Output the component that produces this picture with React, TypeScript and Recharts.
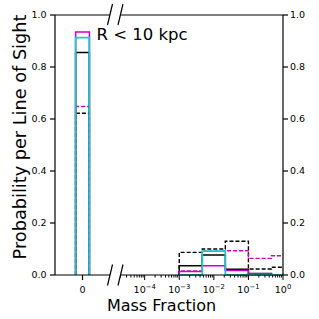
import { LineChart, Line, XAxis, YAxis, ReferenceLine } from 'recharts'

const FONT = '"DejaVu Sans", sans-serif'
const MAGENTA = '#cc00cc'
const CYAN = '#1ec8c8'
const AXIS = { stroke: '#000', strokeWidth: 1.2 }

// bin edges: the "0" bin on the left panel, 2/3-decade bins on the log panel
const ZERO_EDGES = [-0.5, 0.5]
const LOG_EDGES = [0.001, 0.00464, 0.0215, 0.1, 0.464, 2.15]

// first value = zero bin, rest = log bins
const blackDashed = [0.622, 0.087, 0.1, 0.13, 0.023, 0.03]
const magentaDashed = [0.648, 0.016, 0.092, 0.093, 0.064, 0.074]
const blackSolid = [0.856, 0.036, 0.077, 0.022, 0.006, 0]
const magentaSolid = [0.935, 0.013, 0.036, 0.017, 0.005, 0]
const cyanSolid = [0.913, 0, 0.092, 0, 0, 0]

const Y_TICKS = [0, 0.2, 0.4, 0.6, 0.8, 1]
const LOG_MAJOR = [1e-4, 1e-3, 1e-2, 1e-1, 1]
const LOG_DOMAIN = [2e-5, 1]

const SERIES = [
  { key: 'bd', values: blackDashed, color: '#000', dash: '4 2', width: 1.4 },
  { key: 'md', values: magentaDashed, color: MAGENTA, dash: '4 2', width: 1.4 },
  { key: 'bs', values: blackSolid, color: '#000', dash: undefined, width: 1.5 },
  { key: 'ms', values: magentaSolid, color: MAGENTA, dash: undefined, width: 1.5 },
  { key: 'cs', values: cyanSolid, color: CYAN, dash: undefined, width: 1.8 },
]

// minor log ticks 2..9 x 10^k inside the domain
const LOG_MINOR: number[] = []
for (let k = -5; k < 0; k++) {
  for (let m = 2; m <= 9; m++) {
    const v = m * Math.pow(10, k)
    if (v >= LOG_DOMAIN[0] && v <= LOG_DOMAIN[1]) LOG_MINOR.push(v)
  }
}
const LOG_TICKS = [...LOG_MAJOR, ...LOG_MINOR].sort((a, b) => a - b)

// outline of a step histogram: up at first edge, across each bin, down at last edge
function stepOutline(edges: number[], heights: number[]) {
  const pts = [{ x: edges[0], y: 0 }]
  heights.forEach((h, i) => {
    pts.push({ x: edges[i], y: h }, { x: edges[i + 1], y: h })
  })
  pts.push({ x: edges[edges.length - 1], y: 0 })
  return pts
}

function LogTick(props: any) {
  const { x, y, payload } = props
  const lg = Math.log10(payload.value)
  const k = Math.round(lg)
  const major = Math.abs(lg - k) < 1e-6
  return (
    <g>
      <line x1={x} x2={x} y1={y} y2={y + (major ? 5 : 2.5)} stroke="#000" strokeWidth={1} />
      {major && (
        <text x={x} y={y + 18} textAnchor="middle" fontSize={9.5} fontFamily={FONT} fill="#000">
          10<tspan dy={-4.5} fontSize={6.8}>{k === 0 ? '0' : '\u2212' + Math.abs(k)}</tspan>
        </text>
      )}
    </g>
  )
}

const yTickStyle = { fontSize: 9.5, fill: '#000', fontFamily: FONT }

export default function App() {
  return (
    <div style={{ position: 'absolute', left: 0, top: 0, width: 319, height: 319, background: '#fff' }}>
      <div style={{ position: 'absolute', left: 0, top: 0 }}>
        <LineChart width={112} height={319} margin={{ top: 15, right: 2, bottom: 0, left: 0 }}>
          {SERIES.map(s => (
            <Line
              key={s.key}
              data={stepOutline(ZERO_EDGES, [s.values[0]])}
              dataKey="y"
              type="linear"
              stroke={s.color}
              strokeWidth={s.width}
              strokeDasharray={s.dash}
              dot={false}
              activeDot={false}
              isAnimationActive={false}
            />
          ))}
          <ReferenceLine y={1} stroke="#000" strokeWidth={1.2} />
          <XAxis
            dataKey="x"
            type="number"
            domain={[-2, 2]}
            allowDataOverflow
            ticks={[0]}
            interval={0}
            height={44}
            tickSize={5}
            tickMargin={6}
            tick={yTickStyle}
            axisLine={AXIS}
            tickLine={AXIS}
          />
          <YAxis
            type="number"
            domain={[0, 1]}
            ticks={Y_TICKS}
            interval={0}
            width={55}
            tickSize={5}
            tickMargin={3.5}
            tickFormatter={(v: number) => v.toFixed(1)}
            tick={yTickStyle}
            axisLine={AXIS}
            tickLine={AXIS}
          />
        </LineChart>
      </div>
      <div style={{ position: 'absolute', left: 112, top: 0 }}>
        <LineChart width={207} height={319} margin={{ top: 15, right: 0, bottom: 0, left: 8.5 }}>
          {SERIES.map(s => (
            <Line
              key={s.key}
              data={stepOutline(LOG_EDGES, s.values.slice(1))}
              dataKey="y"
              type="linear"
              stroke={s.color}
              strokeWidth={s.width}
              strokeDasharray={s.dash}
              dot={false}
              activeDot={false}
              isAnimationActive={false}
            />
          ))}
          <ReferenceLine y={1} stroke="#000" strokeWidth={1.2} />
          <XAxis
            dataKey="x"
            type="number"
            scale="log"
            domain={LOG_DOMAIN}
            allowDataOverflow
            ticks={LOG_TICKS}
            interval={0}
            height={44}
            tickSize={0}
            tickMargin={0}
            tick={<LogTick />}
            axisLine={AXIS}
            tickLine={false}
          />
          <YAxis
            orientation="right"
            type="number"
            domain={[0, 1]}
            ticks={Y_TICKS}
            interval={0}
            width={36}
            tickSize={5}
            tickMargin={2}
            tickFormatter={(v: number) => v.toFixed(1)}
            tick={yTickStyle}
            axisLine={AXIS}
            tickLine={AXIS}
          />
        </LineChart>
      </div>
      <svg
        width={319}
        height={319}
        style={{ position: 'absolute', left: 0, top: 0, pointerEvents: 'none' }}
        fontFamily={FONT}
      >
        {/* axis break marks */}
        <g stroke="#000" strokeWidth={1.2}>
          <line x1={107.5} y1={25} x2={112.5} y2={4} />
          <line x1={118} y1={25} x2={123} y2={4} />
          <line x1={107.5} y1={285.5} x2={112.5} y2={264.5} />
          <line x1={118} y1={285.5} x2={123} y2={264.5} />
        </g>
        <text x={96.5} y={39.5} fontSize={16.5} fill="#000">R &lt; 10 kpc</text>
        <text x={161.5} y={311} fontSize={16} textAnchor="middle" fill="#000">Mass Fraction</text>
        <text
          x={26}
          y={137}
          fontSize={17.7}
          textAnchor="middle"
          fill="#000"
          transform="rotate(-90, 26, 137)"
        >
          Probability per Line of Sight
        </text>
      </svg>
    </div>
  )
}
